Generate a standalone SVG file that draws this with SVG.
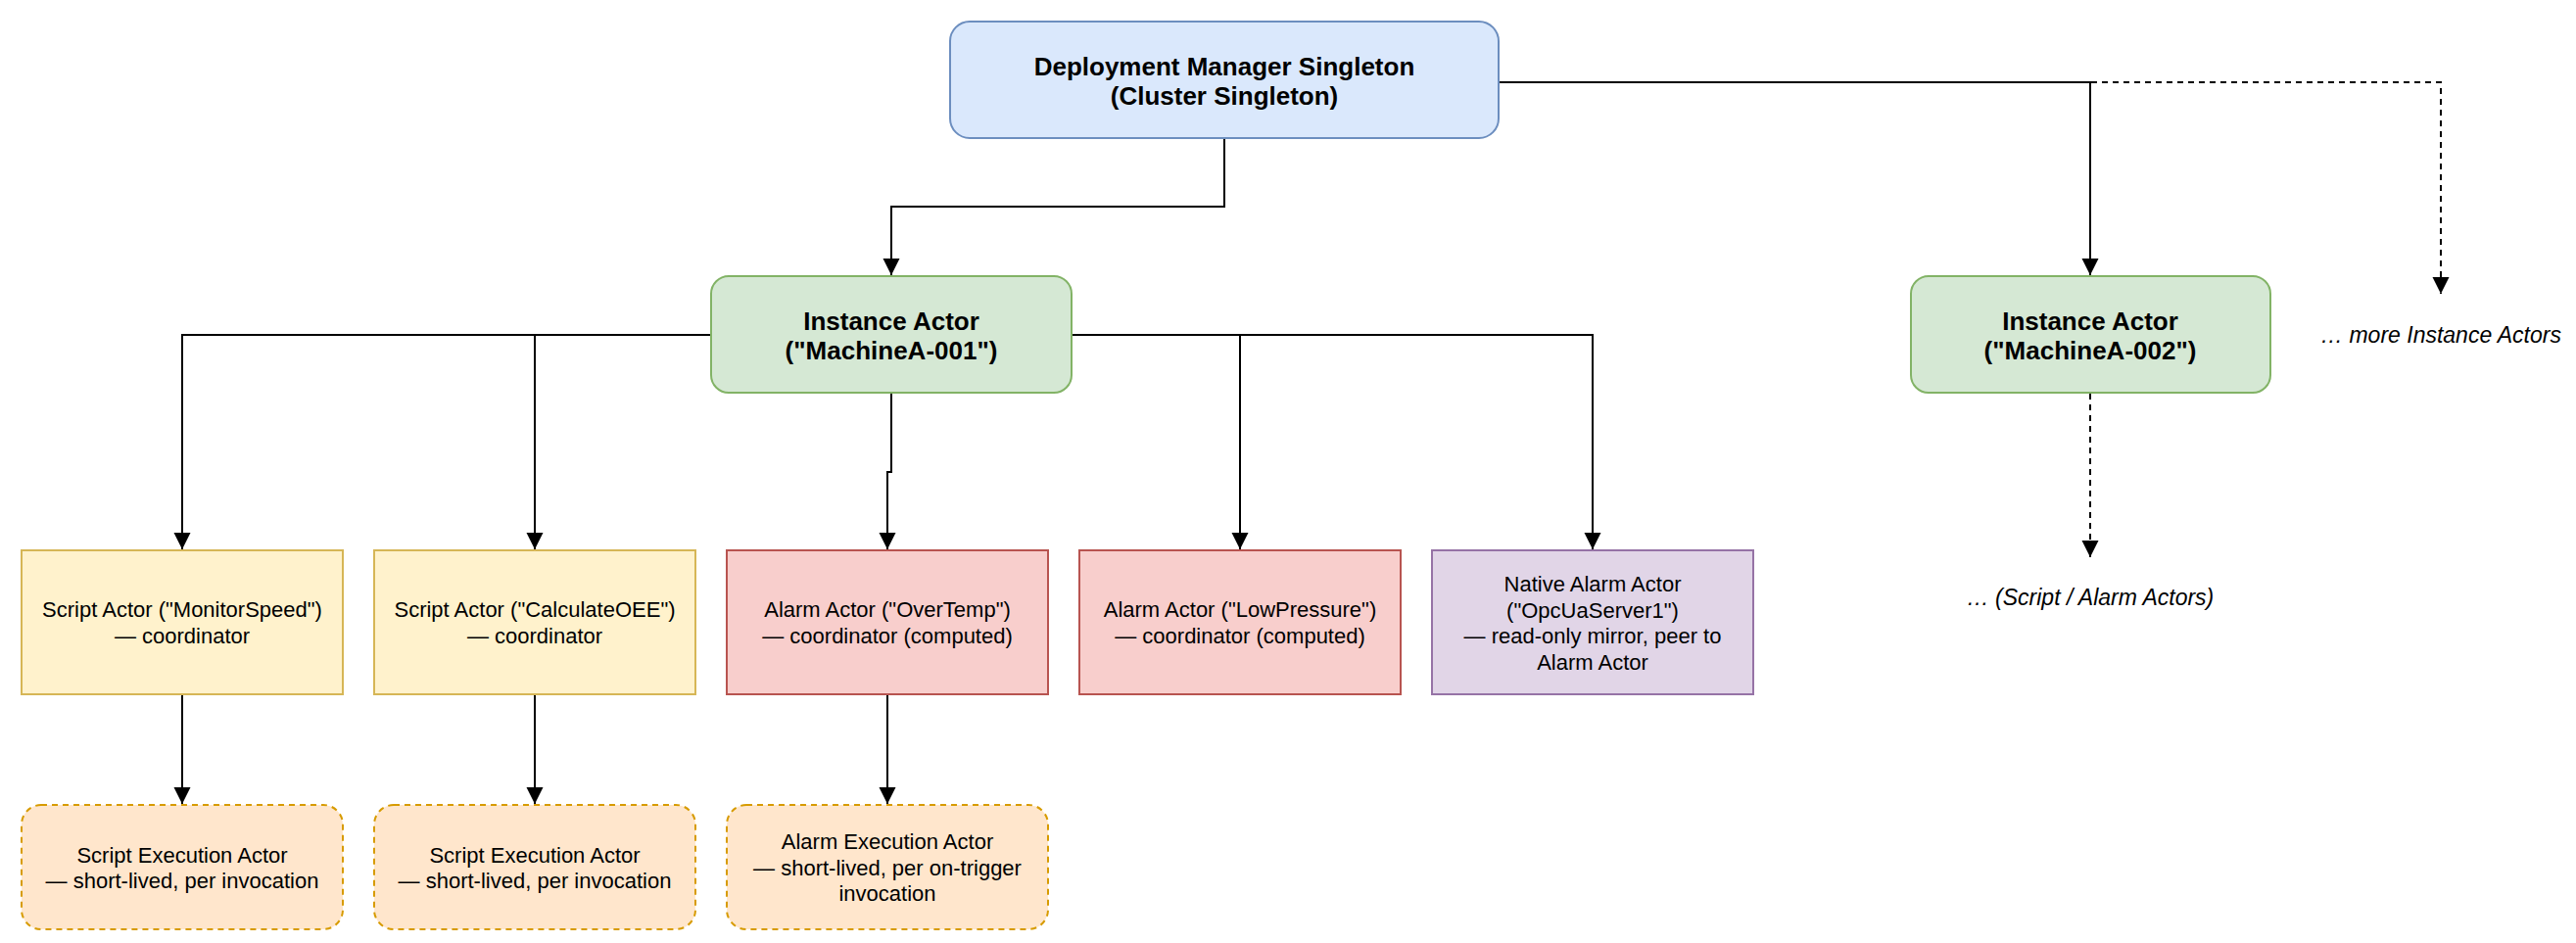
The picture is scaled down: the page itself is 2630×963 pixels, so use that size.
<svg xmlns="http://www.w3.org/2000/svg" width="2630" height="963" viewBox="0 0 2630 963">
<style>
text{font-family:"Liberation Sans",Arial,Helvetica,sans-serif;fill:#000;text-anchor:middle}
.b{font-weight:bold;font-size:26px}
.r{font-size:22px}
.i{font-style:italic;font-size:23px}
.edge{fill:none;stroke:#000;stroke-width:2}
.dash{stroke-dasharray:6 5}
.blue{fill:#dae8fc;stroke:#6c8ebf;stroke-width:2}
.green{fill:#d5e8d4;stroke:#82b366;stroke-width:2}
.yellow{fill:#fff2cc;stroke:#d6b656;stroke-width:2}
.red{fill:#f8cecc;stroke:#b85450;stroke-width:2}
.purple{fill:#e1d5e7;stroke:#9673a6;stroke-width:2}
.orange{fill:#ffe6cc;stroke:#d79b00;stroke-width:2;stroke-dasharray:6 5}
</style>
<defs>
<marker id="arrd" markerUnits="userSpaceOnUse" markerWidth="18" markerHeight="18" viewBox="0 0 18 18" refX="9" refY="17" orient="0">
<path d="M0.5,0 L17.5,0 L9,17 Z" fill="#000"/>
</marker>
</defs>
<rect width="2630" height="963" fill="#fff"/>
<g id="connectors">
<path class="edge" d="M1250,141 V211 H910 V281" marker-end="url(#arrd)"/>
<path class="edge" d="M1530,84 H2134 V281" marker-end="url(#arrd)"/>
<path class="edge dash" d="M1530,84 H2492 V300" marker-end="url(#arrd)"/>
<path class="edge dash" d="M2134,402 V569" marker-end="url(#arrd)"/>
<path class="edge" d="M726,342 H186 V561" marker-end="url(#arrd)"/>
<path class="edge" d="M726,342 H546 V561" marker-end="url(#arrd)"/>
<path class="edge" d="M910,401 V482 H906 V561" marker-end="url(#arrd)"/>
<path class="edge" d="M1094,342 H1266 V561" marker-end="url(#arrd)"/>
<path class="edge" d="M1094,342 H1626 V561" marker-end="url(#arrd)"/>
<path class="edge" d="M186,709 V821" marker-end="url(#arrd)"/>
<path class="edge" d="M546,709 V821" marker-end="url(#arrd)"/>
<path class="edge" d="M906,709 V821" marker-end="url(#arrd)"/>
</g>
<g id="dm">
<rect class="blue" x="970" y="22" width="560" height="119" rx="20"/>
<text class="b" x="1250" y="77">Deployment Manager Singleton</text>
<text class="b" x="1250" y="107">(Cluster Singleton)</text>
</g>
<g id="inst1">
<rect class="green" x="726" y="282" width="368" height="119" rx="18"/>
<text class="b" x="910" y="337">Instance Actor</text>
<text class="b" x="910" y="367">("MachineA-001")</text>
</g>
<g id="inst2">
<rect class="green" x="1951" y="282" width="367" height="119" rx="18"/>
<text class="b" x="2134" y="337">Instance Actor</text>
<text class="b" x="2134" y="367">("MachineA-002")</text>
</g>
<g id="more-instances">
<text class="i" x="2492" y="350">… more Instance Actors</text>
</g>
<g id="more-children">
<text class="i" x="2134" y="618">… (Script / Alarm Actors)</text>
</g>
<g id="script1">
<rect class="yellow" x="22" y="562" width="328" height="147"/>
<text class="r" x="186" y="630">Script Actor ("MonitorSpeed")</text>
<text class="r" x="186" y="657">— coordinator</text>
</g>
<g id="script2">
<rect class="yellow" x="382" y="562" width="328" height="147"/>
<text class="r" x="546" y="630">Script Actor ("CalculateOEE")</text>
<text class="r" x="546" y="657">— coordinator</text>
</g>
<g id="alarm1">
<rect class="red" x="742" y="562" width="328" height="147"/>
<text class="r" x="906" y="630">Alarm Actor ("OverTemp")</text>
<text class="r" x="906" y="657">— coordinator (computed)</text>
</g>
<g id="alarm2">
<rect class="red" x="1102" y="562" width="328" height="147"/>
<text class="r" x="1266" y="630">Alarm Actor ("LowPressure")</text>
<text class="r" x="1266" y="657">— coordinator (computed)</text>
</g>
<g id="native">
<rect class="purple" x="1462" y="562" width="328" height="147"/>
<text class="r" x="1626" y="604">Native Alarm Actor</text>
<text class="r" x="1626" y="631">("OpcUaServer1")</text>
<text class="r" x="1626" y="657">— read-only mirror, peer to</text>
<text class="r" x="1626" y="684">Alarm Actor</text>
</g>
<g id="exec1">
<rect class="orange" x="22" y="822" width="328" height="127" rx="20"/>
<text class="r" x="186" y="881">Script Execution Actor</text>
<text class="r" x="186" y="907">— short-lived, per invocation</text>
</g>
<g id="exec2">
<rect class="orange" x="382" y="822" width="328" height="127" rx="20"/>
<text class="r" x="546" y="881">Script Execution Actor</text>
<text class="r" x="546" y="907">— short-lived, per invocation</text>
</g>
<g id="exec3">
<rect class="orange" x="742" y="822" width="328" height="127" rx="20"/>
<text class="r" x="906" y="867">Alarm Execution Actor</text>
<text class="r" x="906" y="894">— short-lived, per on-trigger</text>
<text class="r" x="906" y="920">invocation</text>
</g>
</svg>
